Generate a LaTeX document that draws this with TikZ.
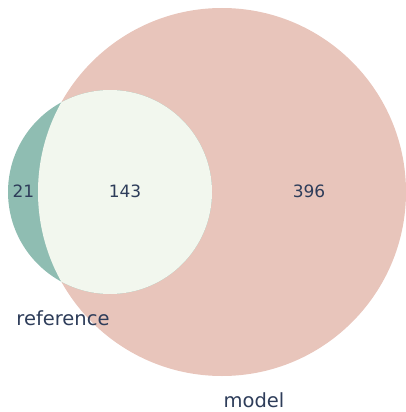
\documentclass[tikz,border=0pt]{standalone}
\usepackage{fontspec}
\setmainfont{DejaVu Sans}
\definecolor{modelfill}{HTML}{E8C5BB}
\definecolor{reffill}{HTML}{8FBDB2}
\definecolor{bothfill}{HTML}{F2F7EE}
\definecolor{labelink}{HTML}{2E3D5A}
\tikzset{
  count/.style={text=labelink, font=\fontsize{17}{17}\selectfont, anchor=center, inner sep=0pt},
  setname/.style={text=labelink, font=\fontsize{19.5}{19.5}\selectfont, anchor=base, inner sep=0pt}
}
\begin{document}
\begin{tikzpicture}[x=1pt, y=-1pt]
  \useasboundingbox (0,0) rectangle (406,412);
  % the two sets
  \fill[modelfill] (222,192) circle[radius=184];
  \fill[reffill] (110,192) circle[radius=102];
  % their overlap
  \begin{scope}
    \clip (222,192) circle[radius=184];
    \fill[bothfill] (110,192) circle[radius=102];
  \end{scope}
  % region counts
  \node[count] (onlyref) at (23.5,191.5) {21};
  \node[count] (shared) at (125,191.5) {143};
  \node[count] (onlymodel) at (309,191.5) {396};
  % set names
  \node[setname] (refname) at (63,325.5) {reference};
  \node[setname] (modelname) at (254,407.5) {model};
\end{tikzpicture}
\end{document}
